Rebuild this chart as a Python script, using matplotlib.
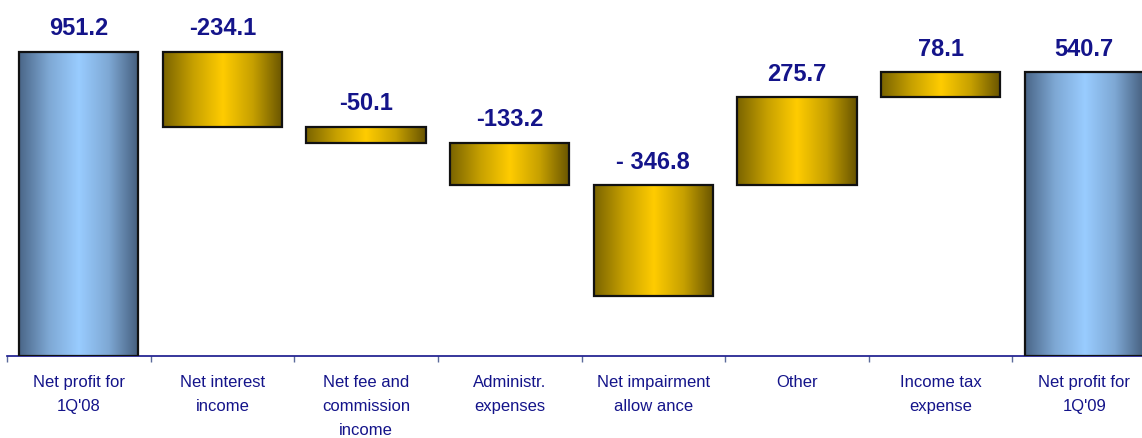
import numpy as np
import matplotlib
matplotlib.use("Agg")
import matplotlib.pyplot as plt
from matplotlib.colors import LinearSegmentedColormap

# ---- data ----
categories = ["Net profit for\n1Q'08", "Net interest\nincome", "Net fee and\ncommission\nincome",
              "Administr.\nexpenses", "Net impairment\nallow ance", "Other",
              "Income tax\nexpense", "Net profit for\n1Q'09"]
value_labels = ["951.2", "-234.1", "-50.1", "-133.2", "- 346.8", "275.7", "78.1", "540.7"]
# bar extents as drawn in the picture (data units)
bar_low = [0, 717.1, 667.0, 533.8, 187.0, 533.8, 809.5, 0]
bar_high = [951.2, 951.2, 717.1, 667.0, 533.8, 809.5, 887.6, 887.6]
is_total = [True, False, False, False, False, False, False, True]

W, H = 1142, 438
fig = plt.figure(figsize=(W / 100, H / 100), dpi=100)
ax_left, ax_right, ax_bottom = 7, 1156, 356
ax = fig.add_axes([ax_left / W, (H - ax_bottom) / H, (ax_right - ax_left) / W, ax_bottom / H])
ymax = 1113

navy = "#14148a"
gold = LinearSegmentedColormap.from_list("gold", ["#7a6400", "#c6a000", "#ffcc00", "#c6a000", "#685400"])
blue = LinearSegmentedColormap.from_list("blue", ["#4a6688", "#7ea8d4", "#99ccff", "#7ea8d4", "#445d7c"])

x = np.arange(len(categories))
heights = np.array(bar_high) - np.array(bar_low)
width = 0.83
bars = ax.bar(x, heights, bottom=bar_low, width=width, facecolor="none",
              edgecolor="#111111", linewidth=1.6, zorder=3)
grad = np.linspace(0, 1, 256).reshape(1, -1)
for b, tot in zip(bars, is_total):
    x0, y0 = b.get_x(), b.get_y()
    ax.imshow(grad, cmap=blue if tot else gold, aspect="auto", interpolation="bilinear",
              extent=(x0, x0 + b.get_width(), y0, y0 + b.get_height()), zorder=2)

for b, lab in zip(bars, value_labels):
    ax.annotate(lab, (b.get_x() + b.get_width() / 2, b.get_y() + b.get_height()),
                xytext=(0, 16.5), textcoords="offset points", ha="center", va="center",
                fontsize=17, fontweight="bold", color=navy, family="Liberation Sans")

ax.set_xlim(-0.5, len(categories) - 0.5)
ax.set_ylim(0, ymax)

for s in ["top", "right", "left"]:
    ax.spines[s].set_visible(False)
ax.spines["bottom"].set_color(navy)
ax.spines["bottom"].set_linewidth(1.2)
ax.set_yticks([])
ax.set_xticks(x)
ax.set_xticklabels(categories, fontsize=12, color=navy, family="Liberation Sans", linespacing=1.78)
ax.set_xticks(np.arange(-0.5, len(categories), 1), minor=True)
ax.tick_params(axis="x", which="major", length=0, pad=13.5)
ax.tick_params(axis="x", which="minor", length=4, width=1, color="#5a6a9a", direction="out")

fig.savefig("out.png", dpi=100)
